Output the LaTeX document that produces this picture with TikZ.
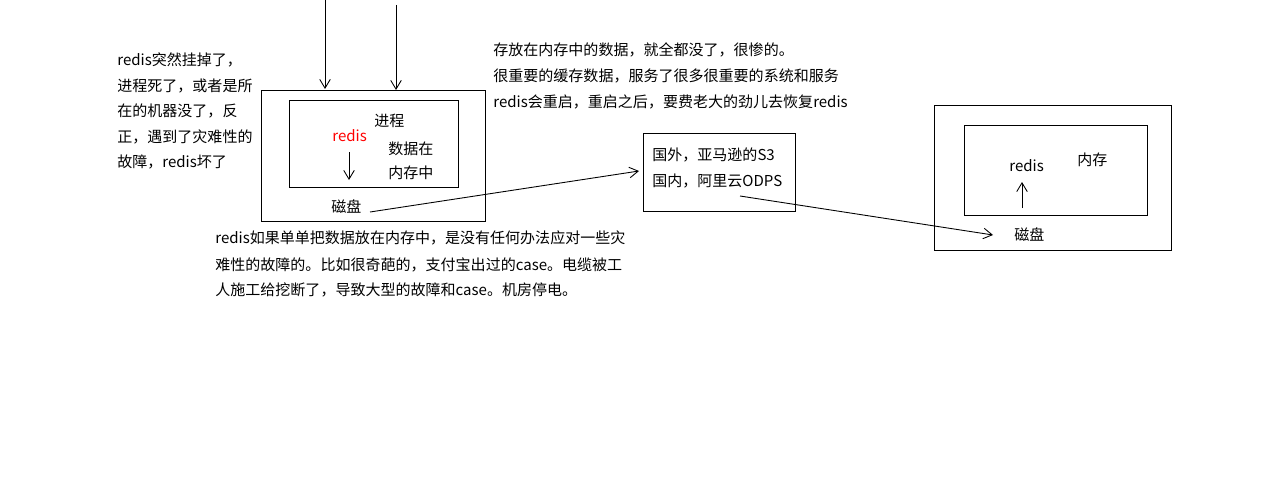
\documentclass[tikz,border=0pt]{standalone}
\usepackage{fontspec}
\setmainfont{Noto Sans CJK SC}
\usetikzlibrary{arrows.meta}
\begin{document}
\begin{tikzpicture}[x=0.02cm, y=-0.02cm, every node/.style={font=\fontsize{8.55}{10}\selectfont, inner sep=0pt},
  line/.style={draw, line width=0.5pt},
  arr/.style={-{Straight Barb[length=5pt, width=6pt]}, line width=0.5pt}]
  \useasboundingbox (0,0) rectangle (1274,500);

  % left machine
  \draw[line] (261,90) rectangle (485,221);
  \draw[line] (289,100) rectangle (458,187);
  \coordinate (t1) at (325,0);
  \coordinate (t2) at (396,5);
  \coordinate (b1) at (325,89);
  \coordinate (b2) at (396,90);
  \draw[arr] (t1) -- (b1);
  \draw[arr] (t2) -- (b2);
  \node[text=red, anchor=west] (redisA) at (332,136) {redis};
  \node[anchor=west] (procA) at (374,121) {进程};
  \node[anchor=west] (memA1) at (388,149) {数据在};
  \node[anchor=west] (memA2) at (388,173) {内存中};
  \coordinate (downA) at (349,180);
  \draw[arr] (349,152) -- (downA);
  \node[anchor=west] (diskA) at (331,207) {磁盘};

  % texts
  \node[anchor=west] (lt1) at (117,60) {redis突然挂掉了，};
  \node[anchor=west] (lt2) at (117,86) {进程死了，或者是所};
  \node[anchor=west] (lt3) at (117,111) {在的机器没了，反};
  \node[anchor=west] (lt4) at (117,137) {正，遇到了灾难性的};
  \node[anchor=west] (lt5) at (117,162) {故障，redis坏了};

  \node[anchor=west] (tt1) at (493,50) {存放在内存中的数据，就全都没了，很惨的。};
  \node[anchor=west] (tt2) at (493,76) {很重要的缓存数据，服务了很多很重要的系统和服务};
  \node[anchor=west] (tt3) at (493,102) {redis会重启，重启之后，要费老大的劲儿去恢复redis};

  \node[anchor=west] (bt1) at (215,238) {redis如果单单把数据放在内存中，是没有任何办法应对一些灾};
  \node[anchor=west] (bt2) at (215,265) {难性的故障的。比如很奇葩的，支付宝出过的case。电缆被工};
  \node[anchor=west] (bt3) at (215,290) {人施工给挖断了，导致大型的故障和case。机房停电。};

  % cloud storage
  \draw[line] (643,133) rectangle (795,211);
  \node[anchor=west] (cl1) at (652,155) {国外，亚马逊的S3};
  \node[anchor=west] (cl2) at (652,181) {国内，阿里云ODPS};
  \coordinate (fromA) at (370,212);
  \coordinate (toC) at (639,171);
  \draw[arr] (fromA) -- (toC);
  \coordinate (fromC) at (740,196);
  \coordinate (toB) at (993,235);
  \draw[arr] (fromC) -- (toB);

  % right machine
  \draw[line] (934,105) rectangle (1171,250);
  \draw[line] (964,125) rectangle (1147,215);
  \node[anchor=west] (redisB) at (1009,166) {redis};
  \node[anchor=west] (memB) at (1077,160) {内存};
  \node[anchor=west] (diskB) at (1014,235) {磁盘};
  \coordinate (upB) at (1022,182);
  \draw[arr] (1022,208) -- (upB);
\end{tikzpicture}
\end{document}
